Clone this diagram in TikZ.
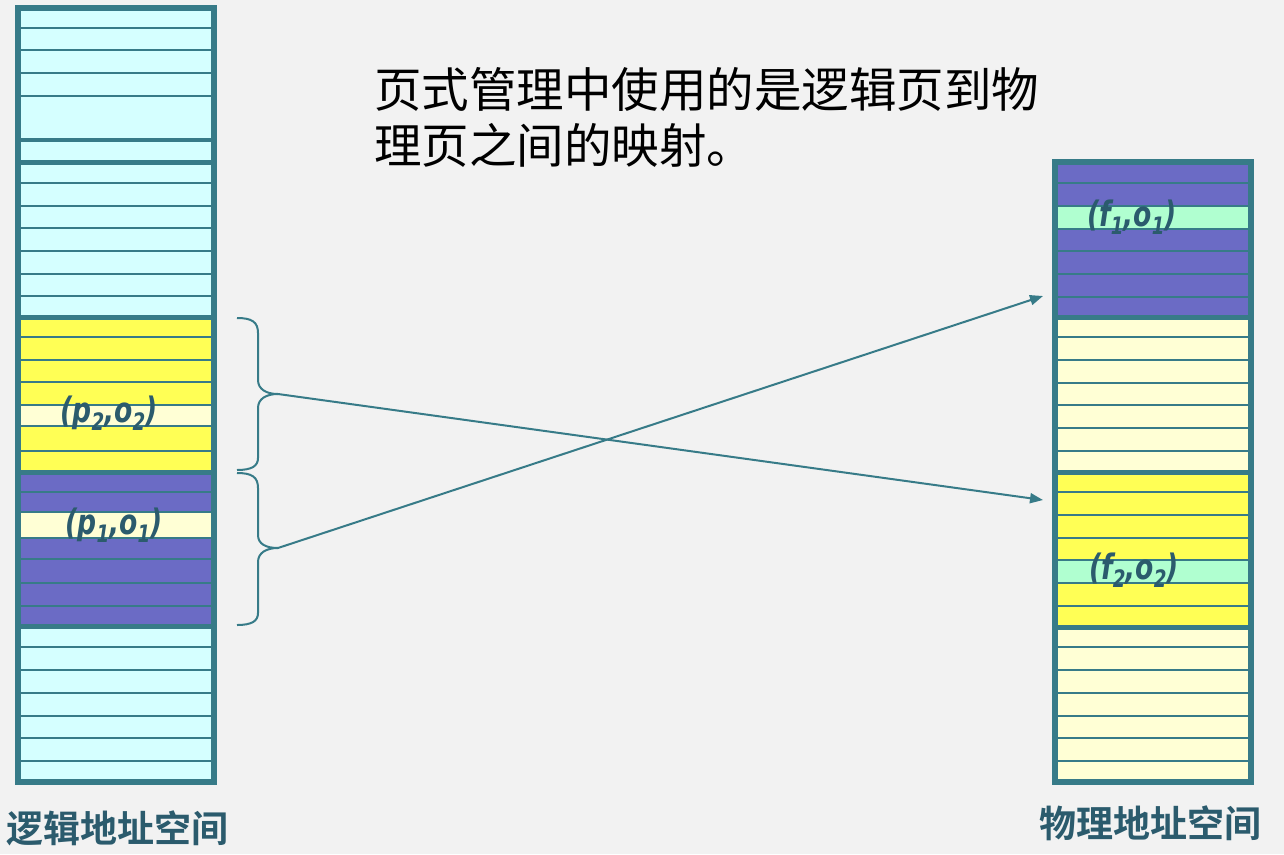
\documentclass[tikz,border=0pt]{standalone}
\usepackage{fontspec}
\usepackage{graphicx}
\setmainfont{Open Sans}
\newfontfamily\cjk{Noto Sans CJK SC}
\newfontfamily\cjkb{Noto Sans CJK SC Bold}
\newfontfamily\lblfont{DejaVu Sans}
\usetikzlibrary{arrows.meta}
\definecolor{bg}{RGB}{242,242,242}
\definecolor{tealb}{RGB}{55,123,136}
\definecolor{txtd}{RGB}{43,91,109}
\definecolor{cyanf}{RGB}{213,255,255}
\definecolor{yelf}{RGB}{255,255,85}
\definecolor{lyelf}{RGB}{255,255,213}
\definecolor{purpf}{RGB}{107,107,197}
\definecolor{greenf}{RGB}{176,255,208}
\newcommand{\sbx}[1]{\raisebox{-0.22em}{\fontsize{24}{24}\selectfont #1}}
\newcommand{\lbltext}[1]{\scalebox{0.76}[1]{\lblfont\bfseries\itshape\fontsize{35}{35}\selectfont #1}}
\begin{document}
\begin{tikzpicture}[x=1pt,y=-1pt,
  rowline/.style={draw=tealb,line width=2.2pt},
  sepline/.style={draw=tealb,line width=5pt},
  frame/.style={draw=tealb,line width=6pt},
  conn/.style={draw=tealb,line width=2pt,-{Triangle[length=13pt,width=10pt]}},
  bracestyle/.style={draw=tealb,line width=2pt},
  lbl/.style={text=txtd,inner sep=0},
  caption/.style={font=\cjkb\fontsize{37}{37}\selectfont,text=txtd,inner sep=0},
  titlestyle/.style={font=\cjk\fontsize{47.5}{56}\selectfont,text=black,inner sep=0,anchor=base west}]
\useasboundingbox (0,0) rectangle (1284,854);
\fill[bg] (0,0) rectangle (1284,854);
% ---------- left column (logical) ----------
\fill[cyanf] (18,8) rectangle (214,317);
\fill[yelf] (18,317) rectangle (214,472);
\fill[lyelf] (18,405) rectangle (214,426);
\fill[purpf] (18,472) rectangle (214,626);
\fill[lyelf] (18,512) rectangle (214,538);
\fill[cyanf] (18,626) rectangle (214,782);
\foreach \yy in {28,50,73,96,183,206,228,251,274,296,337,360,382,405,426,451,492,512,538,559,583,606,647,670,693,716,738,761}
  \draw[rowline] (21,\yy) -- (211,\yy);
\draw[draw=tealb,line width=4pt] (21,140) -- (211,140);
\foreach \yy in {162,317,472,626}
  \draw[sepline] (18,\yy) -- (214,\yy);
\draw[frame] (18,8) rectangle (214,782);
% ---------- right column (physical) ----------
\fill[purpf] (1055,162) rectangle (1251,317);
\fill[greenf] (1055,206) rectangle (1251,229);
\fill[lyelf] (1055,317) rectangle (1251,472);
\fill[yelf] (1055,472) rectangle (1251,627);
\fill[greenf] (1055,560) rectangle (1251,583);
\fill[lyelf] (1055,627) rectangle (1251,782);
\foreach \yy in {183,206,229,251,274,297,337,360,383,405,428,451,492,515,538,560,583,606,647,670,693,716,738,761}
  \draw[rowline] (1058,\yy) -- (1248,\yy);
\foreach \yy in {317,472,627}
  \draw[sepline] (1055,\yy) -- (1251,\yy);
\draw[frame] (1055,162) rectangle (1251,782);
% ---------- labels ----------
\node[lbl] (p2) at (109,413) {\lbltext{(p\sbx{2},o\sbx{2})}};
\node[lbl] (p1) at (114,525) {\lbltext{(p\sbx{1},o\sbx{1})}};
\node[lbl] (f1) at (1132,217) {\lbltext{(f\sbx{1},o\sbx{1})}};
\node[lbl] (f2) at (1134,570) {\lbltext{(f\sbx{2},o\sbx{2})}};
\node[caption] (la) at (117.5,828) {逻辑地址空间};
\node[caption] (pa) at (1150,823) {物理地址空间};
\node[titlestyle] (t1) at (374,107) {页式管理中使用的是逻辑页到物};
\node[titlestyle] (t2) at (374,163) {理页之间的映射。};
% ---------- braces ----------
\coordinate (b1) at (278,394);
\coordinate (b2) at (278,548);
\coordinate (tgt1) at (1043,500);
\coordinate (tgt2) at (1043,296);
\draw[bracestyle] (237,318) .. controls (252,318) and (258,322) .. (258,333) -- (258,380)
  .. controls (258,389) and (266,394) .. (b1);
\draw[bracestyle] (b1) .. controls (266,394) and (258,399) .. (258,408) -- (258,458)
  .. controls (258,466) and (252,470) .. (237,470);
\draw[bracestyle] (237,473) .. controls (252,473) and (258,477) .. (258,488) -- (258,535)
  .. controls (258,544) and (266,548) .. (b2);
\draw[bracestyle] (b2) .. controls (266,548) and (258,553) .. (258,562) -- (258,613)
  .. controls (258,621) and (252,625) .. (237,625);
% ---------- mapping arrows ----------
\draw[conn] (b1) -- (tgt1);
\draw[conn] (b2) -- (tgt2);
\end{tikzpicture}
\end{document}
